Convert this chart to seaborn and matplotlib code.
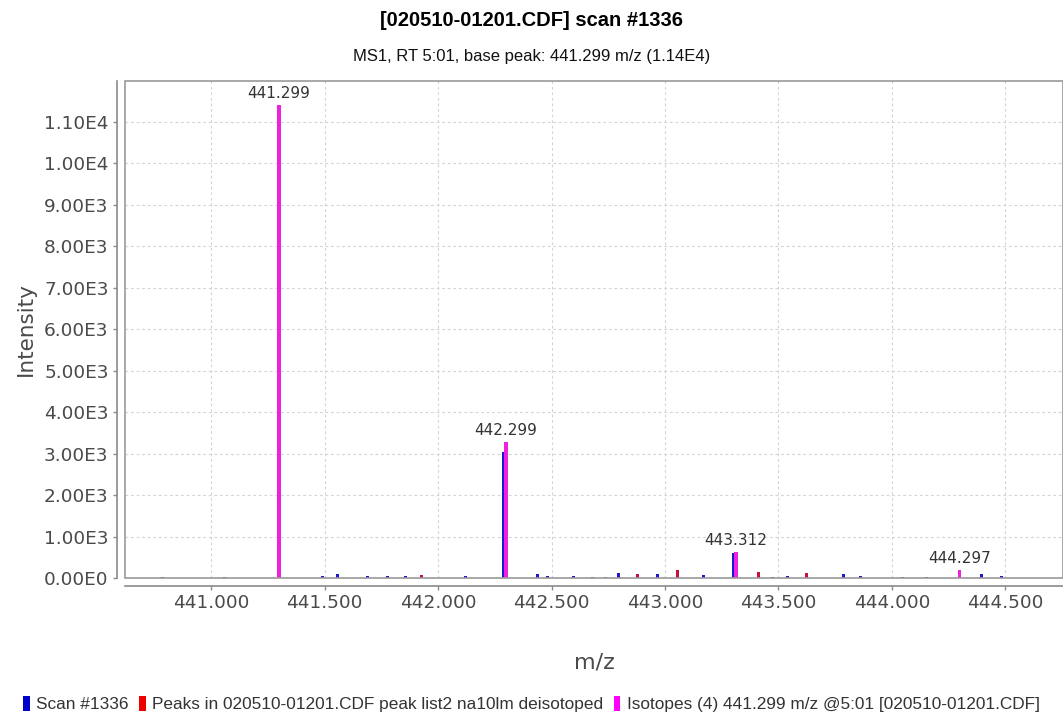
import matplotlib
matplotlib.use("Agg")
import matplotlib.pyplot as plt
import seaborn as sns
import numpy as np
from matplotlib.patches import Patch, Rectangle
from matplotlib.ticker import FuncFormatter, MultipleLocator

# ---------------- data ----------------
title = "[020510-01201.CDF] scan #1336"
subtitle = "MS1, RT 5:01, base peak: 441.299 m/z (1.14E4)"
x_label = "m/z"
y_label = "Intensity"
legend_labels = ["Scan #1336",
                 "Peaks in 020510-01201.CDF peak list2 na10lm deisotoped",
                 "Isotopes (4) 441.299 m/z @5:01 [020510-01201.CDF]"]

scan_mz = [440.787, 441.060, 441.299, 441.492, 441.558, 441.690, 441.778, 441.857,
           442.122, 442.286, 442.439, 442.483, 442.598, 442.681, 442.796, 442.968,
           443.170, 443.304, 443.474, 443.540, 443.787, 443.862, 444.047, 444.153,
           444.395, 444.483]
scan_int = [15, 20, 11400, 40, 100, 40, 40, 40,
            40, 3040, 100, 40, 40, 30, 120, 90,
            80, 600, 30, 50, 100, 40, 30, 30,
            100, 40]

peak_mz = [441.927, 442.738, 442.880, 443.056, 443.413, 443.624]
peak_int = [70, 30, 90, 190, 140, 120]

iso_mz = [441.299, 442.299, 443.312, 444.297]
iso_int = [11400, 3280, 630, 200]
iso_labels = ["441.299", "442.299", "443.312", "444.297"]

x_ticks = [441.0, 441.5, 442.0, 442.5, 443.0, 443.5, 444.0, 444.5]

# ---------------- style ----------------
sns.set_theme(style="white")
plt.rcParams['font.family'] = ['DejaVu Sans']

c_scan = "#1a1acc"
c_peak = "#c8103c"
c_iso = "#ee22dd"
grid_c = "#d4d4d4"
axis_c = "#8a8a8a"
text_c = "#4a4a4a"
narrow = ["Liberation Sans"]

fig = plt.figure(figsize=(10.63, 7.13), dpi=100)
ax = fig.add_axes([125 / 1063, 1 - 578 / 713, 1 - 125 / 1063, 497 / 713])

px = 1.0 / 226.86  # m/z per pixel
ax.bar(scan_mz, scan_int, width=3 * px, color=c_scan, linewidth=0, zorder=3)
ax.bar(peak_mz, peak_int, width=3 * px, color=c_peak, linewidth=0, zorder=4)
ax.bar(iso_mz, iso_int, width=3.5 * px, color=c_iso, linewidth=0, zorder=5)

for m, v, lab in zip(iso_mz, iso_int, iso_labels):
    ax.annotate(lab, xy=(m, v), xytext=(0, 3), textcoords="offset points",
                ha="center", va="bottom", fontsize=11, color="#333333", zorder=6)

ax.set_xlim(440.6196, 444.7543)
ax.set_ylim(0, 11976)
ax.set_xticks(x_ticks)
ax.xaxis.set_major_formatter(FuncFormatter(lambda v, p: f"{v:.3f}"))
ax.yaxis.set_major_locator(MultipleLocator(1000))


def sci(v, p):
    if v == 0:
        return "0.00E0"
    e = int(np.floor(np.log10(abs(v))))
    return f"{v / 10 ** e:.2f}E{e}"


ax.yaxis.set_major_formatter(FuncFormatter(sci))

ax.grid(True, color=grid_c, linestyle=(0, (2.5, 2.5)), linewidth=0.8, zorder=0)

for s in ["top", "right"]:
    ax.spines[s].set_visible(False)
for s in ["left", "bottom"]:
    ax.spines[s].set_position(("outward", 5.8))
    ax.spines[s].set_color(axis_c)
    ax.spines[s].set_linewidth(1.2)

ax.add_patch(Rectangle((0, 0), 1, 1, transform=ax.transAxes, fill=False,
                       edgecolor="#999999", linewidth=1.2, clip_on=False, zorder=7))

ax.tick_params(axis="both", direction="out", length=3, width=1, color=axis_c,
               labelsize=13.3, labelcolor=text_c, left=True, bottom=True, pad=3)

ax.set_xlabel(x_label, fontsize=16, color=text_c, labelpad=29)
ax.set_ylabel(y_label, fontsize=15.5, color=text_c, labelpad=6)

fig.text(0.5, 1 - 20 / 713, title, ha="center", va="center", fontsize=14.5,
         fontweight="bold", family=narrow, color="black")
fig.text(0.5, 1 - 56 / 713, subtitle, ha="center", va="center", fontsize=12,
         family=narrow, color="#111111")

handles = [Patch(facecolor=c, edgecolor="none") for c in ["#0000cc", "#ee0000", "#ff00ff"]]
leg = fig.legend(handles, legend_labels, loc="center", bbox_to_anchor=(0.5, 1 - 704 / 713),
                 ncol=3, frameon=False, handlelength=0.4, handleheight=1.0,
                 handletextpad=0.35, columnspacing=0.6, borderaxespad=0,
                 prop={"family": narrow, "size": 12.4})
for t in leg.get_texts():
    t.set_color("#333333")

fig.savefig("out.png", dpi=100)
